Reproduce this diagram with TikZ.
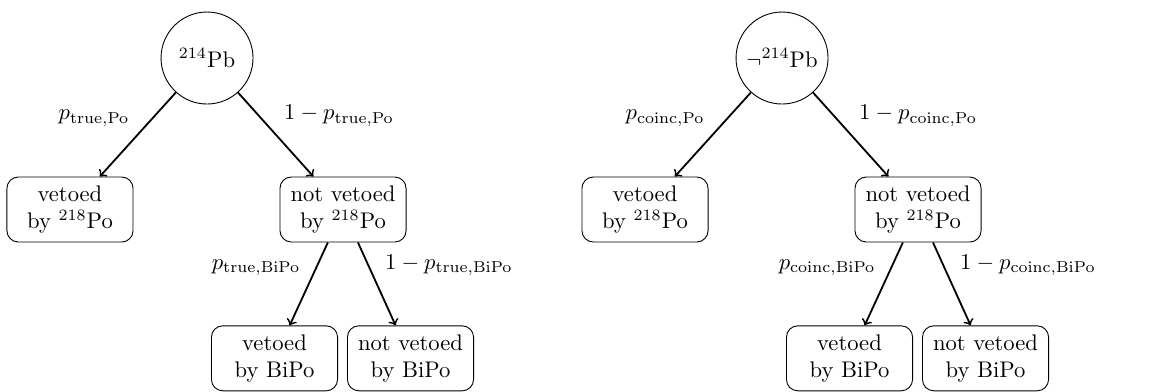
\documentclass[tikz,border=0pt]{standalone}
\usepackage{amsmath}
\begin{document}
\begin{tikzpicture}[baseline]

    \tikzset{
      source/.style={
        draw,
        circle,
        minimum size=1.43cm,
        inner sep=0pt,
      },
      outcome/.style={
        draw,
        rectangle,
        rounded corners=5pt,
        align=center,
        minimum width=1.96cm,
        minimum height=1.01cm,
        inner sep=2pt,
      },
      branch/.style={
        thick,
        ->,
      },
    }
    \useasboundingbox (0,0) rectangle (18,-6.093);

    % true coincidences
	\node[source] (pb) at (3.218,-0.902) {$^{214}$Pb};
	\node[outcome] (po) at (1.088,-3.257) {vetoed\\by $^{218}$Po};
	\node[outcome] (nopo) at (5.332,-3.257) {not vetoed\\by $^{218}$Po};
	\node[outcome] (bipo) at (4.267,-5.57) {vetoed\\by BiPo};
	\node[outcome] (nobipo) at (6.381,-5.57) {not vetoed\\by BiPo};
	\draw[branch] (pb) -- node[midway, above left] {$p_{\mathrm{true,Po}}$} (po);
	\draw[branch] (pb) -- node[midway, above right] {$1-p_{\mathrm{true,Po}}$} (nopo);
	\draw[branch] (nopo) -- node[midway, above left] {$p_{\mathrm{true,BiPo}}$} (bipo);
	\draw[branch] (nopo) -- node[midway, above right] {$1-p_{\mathrm{true,BiPo}}$} (nobipo);

    % accidental coincidences
    \begin{scope}[xshift=8.938cm]
	\node[source] (npb) at (3.218,-0.902) {$\neg^{214}$Pb};
	\node[outcome] (npo) at (1.088,-3.257) {vetoed\\by $^{218}$Po};
	\node[outcome] (nnopo) at (5.332,-3.257) {not vetoed\\by $^{218}$Po};
	\node[outcome] (nbipo) at (4.267,-5.57) {vetoed\\by BiPo};
	\node[outcome] (nnobipo) at (6.381,-5.57) {not vetoed\\by BiPo};
	\draw[branch] (npb) -- node[midway, above left] {$p_{\mathrm{coinc,Po}}$} (npo);
	\draw[branch] (npb) -- node[midway, above right] {$1-p_{\mathrm{coinc,Po}}$} (nnopo);
	\draw[branch] (nnopo) -- node[midway, above left] {$p_{\mathrm{coinc,BiPo}}$} (nbipo);
	\draw[branch] (nnopo) -- node[midway, above right] {$1-p_{\mathrm{coinc,BiPo}}$} (nnobipo);
    \end{scope}

\end{tikzpicture}
\end{document}
